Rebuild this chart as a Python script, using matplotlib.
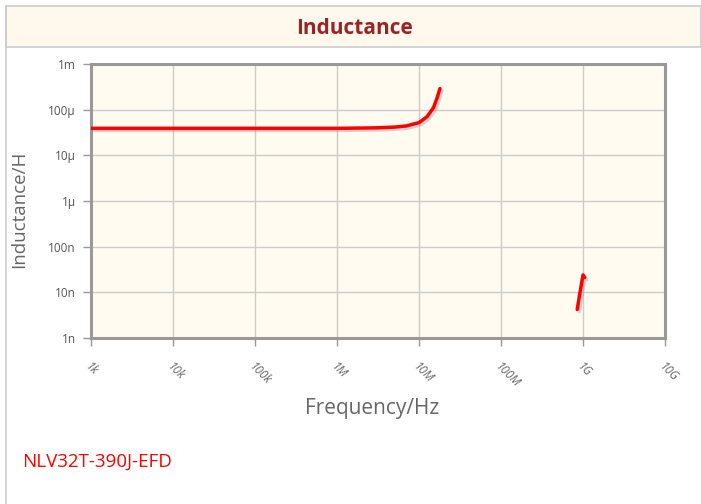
import numpy as np
import matplotlib
matplotlib.use("Agg")
import matplotlib.pyplot as plt
import matplotlib.patheffects as pe
from matplotlib.patches import Rectangle
from matplotlib.lines import Line2D

# --- data ---
freq_low = [1e3, 1e4, 1e5, 1e6, 3e6, 5e6, 7e6, 1e7, 1.25e7, 1.5e7, 1.66e7, 1.8e7]
ind_low = [39e-6, 39e-6, 39e-6, 39e-6, 40e-6, 41.5e-6, 44e-6, 52e-6, 70e-6, 110e-6, 180e-6, 290e-6]

freq_high = [8.5e8, 9e8, 9.5e8, 1.0e9, 1.05e9]
ind_high = [4.2e-9, 8e-9, 14e-9, 24e-9, 21e-9]

x_ticks = [1e3, 1e4, 1e5, 1e6, 1e7, 1e8, 1e9, 1e10]
x_labels = ["1k", "10k", "100k", "1M", "10M", "100M", "1G", "10G"]
y_ticks = [1e-9, 1e-8, 1e-7, 1e-6, 1e-5, 1e-4, 1e-3]
y_labels = ["1n", "10n", "100n", "1\u00b5", "10\u00b5", "100\u00b5", "1m"]

part_name = "NLV32T-390J-EFD"

plt.rcParams['font.family'] = ['Open Sans', 'DejaVu Sans']

fig = plt.figure(figsize=(7.01, 5.04), dpi=100)
W, H = 701, 504

# panel borders and title bar
fig.patches.append(Rectangle((6 / W, 1 - 47 / H), (W - 6) / W, 41 / H, transform=fig.transFigure,
                             facecolor="#fef9ec", edgecolor="#cccccc", linewidth=1.2))
fig.lines.append(Line2D([6 / W, 6 / W], [0, 1 - 6 / H], transform=fig.transFigure,
                        color="#cccccc", linewidth=1.2))
fig.text(355 / W, 1 - 28 / H, "Inductance", ha="center", va="center",
         fontsize=15, fontweight="bold", color="#9b2226")

ax = fig.add_axes([91 / W, 1 - 338 / H, 574 / W, 274 / H])
ax.set_facecolor("#fffbf0")

shadow = [pe.SimpleLineShadow(offset=(1.5, -1.5), shadow_color="#888888", alpha=0.35),
          pe.Normal()]
ax.plot(freq_low, ind_low, color="#ff0000", linewidth=2.5, solid_capstyle="round",
        path_effects=shadow, zorder=3)
ax.plot(freq_high, ind_high, color="#ff0000", linewidth=2.5, solid_capstyle="round",
        path_effects=shadow, zorder=3)

ax.set_xscale("log")
ax.set_yscale("log")
ax.set_xlim(1e3, 1e10)
ax.set_ylim(1e-9, 1e-3)
ax.minorticks_off()

ax.set_xticks(x_ticks)
ax.set_xticklabels(x_labels, rotation=-45, ha="left", va="top", rotation_mode="anchor",
                   fontsize=8.5, color="#666666", fontstyle="italic")
ax.set_yticks(y_ticks)
ax.set_yticklabels(y_labels, fontsize=8.5, color="#555555")
ax.tick_params(axis="both", length=6, width=1, color="#999999", pad=5)
ax.tick_params(axis="x", pad=10)

ax.grid(True, color="#cccccc", linewidth=1)
for s in ax.spines.values():
    s.set_color("#999999")
    s.set_linewidth(2.2)

ax.set_xlabel("Frequency/Hz", fontsize=15, color="#666666")
ax.xaxis.set_label_coords((372 - 91) / 574, (338 - 398) / 274)
ax.set_ylabel("Inductance/H", fontsize=13.5, color="#666666")
ax.yaxis.set_label_coords((28 - 91) / 574, (338 - 209) / 274)

fig.text(22 / W, 1 - 462 / H, part_name, ha="left", va="center", fontsize=13.5, color="#ff0000")

fig.savefig("out.png", dpi=100)
